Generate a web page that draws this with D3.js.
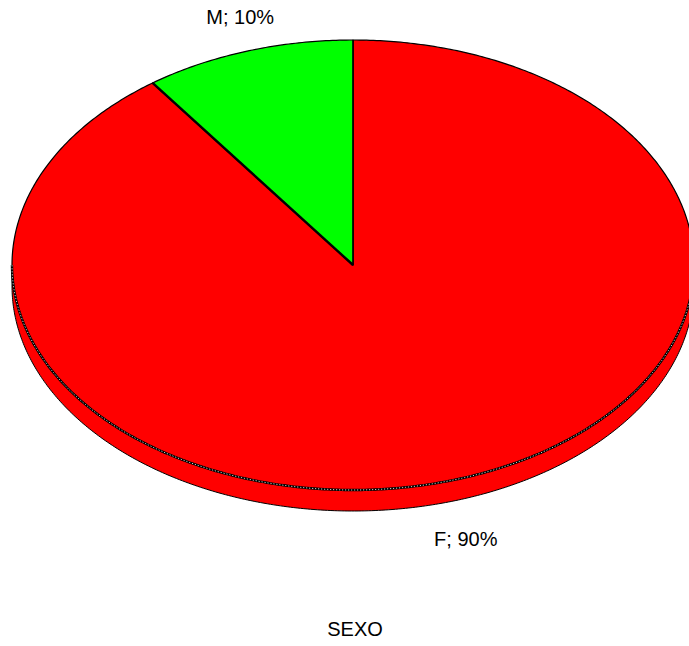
<!DOCTYPE html>
<html>
<head>
<meta charset="utf-8">
<script src="https://cdn.jsdelivr.net/npm/d3@7"></script>
<style>
  html, body { margin: 0; padding: 0; background: #fff; }
  svg { display: block; }
</style>
</head>
<body>
<svg id="chart" width="689" height="646"></svg>
<script>
// Distribution by sex
const categories = ["F", "M"];
const values = [90, 10];
const labels = ["F; 90%", "M; 10%"];
const colors = ["#ff0000", "#00ff00"];
const title = "SEXO";

const cx = 353, cy = 265;   // centre of the top face
const rx = 341, ry = 225;   // ellipse radii
const depth = 21;           // thickness of the disc

const svg = d3.select("#chart");

const pie = d3.pie().sort(null).value(d => d.value);
const arcs = pie(categories.map((c, i) => ({ cat: c, value: values[i], label: labels[i], color: colors[i] })));

// point on the ellipse for an angle measured clockwise from 12 o'clock
const pt = (a, dy = 0) => [cx + rx * Math.sin(a), cy - ry * Math.cos(a) + dy];

function arcPoints(a0, a1, dy = 0) {
  const n = Math.max(2, Math.ceil(Math.abs(a1 - a0) / 0.01));
  return d3.range(n + 1).map(i => pt(a0 + (a1 - a0) * i / n, dy));
}

const line = d3.line();

// side walls: visible part of each slice lies between 90° and 270°
arcs.forEach(d => {
  const a0 = Math.max(d.startAngle, Math.PI / 2);
  const a1 = Math.min(d.endAngle, 3 * Math.PI / 2);
  if (a1 <= a0) return;
  const top = arcPoints(a0, a1);
  const bottom = arcPoints(a1, a0, depth);
  svg.append("path")
    .attr("d", line(top.concat(bottom)) + "Z")
    .attr("fill", d.data.color)
    .attr("stroke", "#000")
    .attr("stroke-width", 1);
});

// top faces
arcs.forEach(d => {
  const pts = [[cx, cy]].concat(arcPoints(d.startAngle, d.endAngle));
  svg.append("path")
    .attr("d", line(pts) + "Z")
    .attr("fill", d.data.color)
    .attr("stroke", "#000")
    .attr("stroke-width", 1.2)
    .attr("stroke-linejoin", "round");
});

// rim along the front edge of the top face
const rim = arcPoints(Math.PI / 2, 3 * Math.PI / 2);
svg.append("path").attr("d", line(rim)).attr("fill", "none")
  .attr("stroke", "#000").attr("stroke-width", 2.4);
svg.append("path").attr("d", line(rim)).attr("fill", "none")
  .attr("stroke", "#fff").attr("stroke-width", 0.8).attr("stroke-dasharray", "1.2,1.8");

// radial edges between slices
arcs.forEach(d => {
  const p = pt(d.startAngle);
  svg.append("line")
    .attr("x1", cx).attr("y1", cy).attr("x2", p[0]).attr("y2", p[1])
    .attr("stroke", "#000").attr("stroke-width", d.index === 0 ? 1.2 : 2.4);
});

// slice labels
arcs.forEach(d => {
  const mid = (d.startAngle + d.endAngle) / 2;
  const s = Math.sin(mid), c = Math.cos(mid);
  const x = cx + rx * 1.07 * s;
  const y = c < 0 ? cy - ry * 1.18 * c + depth : cy - ry * 1.16 * c;
  svg.append("text")
    .attr("x", x).attr("y", y)
    .attr("text-anchor", "middle")
    .attr("dominant-baseline", "central")
    .attr("font-family", "Liberation Sans, Arial, sans-serif")
    .attr("font-size", 20)
    .attr("fill", "#000")
    .text(d.data.label);
});

svg.append("text")
  .attr("x", 355).attr("y", 636)
  .attr("text-anchor", "middle")
  .attr("font-family", "Liberation Sans, Arial, sans-serif")
  .attr("font-size", 20)
  .attr("fill", "#000")
  .text(title);
</script>
</body>
</html>
